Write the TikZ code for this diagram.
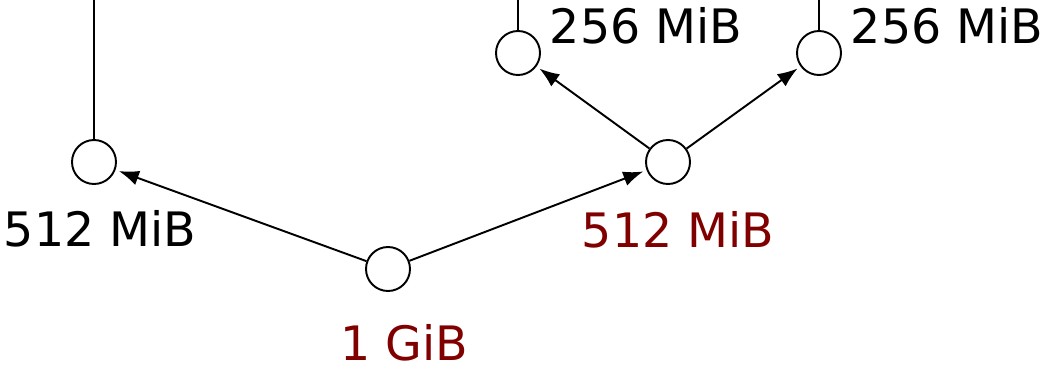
\documentclass[tikz,border=0pt]{standalone}
\usepackage{fontspec}
\setmainfont{DejaVu Sans}
\usetikzlibrary{arrows.meta,positioning}
\definecolor{darkred}{RGB}{128,0,0}

\begin{document}
\begin{tikzpicture}[
  line width=1.1pt,
  block/.style={draw, circle, minimum size=0.88cm, inner sep=0pt},
  size/.style={inner sep=0pt, font=\fontsize{27}{32}\selectfont},
  hot/.style={size, text=darkred},
  link/.style={-{Latex[length=0.4cm,width=0.3cm]}, shorten >=2pt}
]
\useasboundingbox (0,0) rectangle (20.98,-7.36);

\node[block] (root) at (7.76,-5.38) {};
\node[block] (left512) at (1.88,-3.24) {};
\node[block] (right512) at (13.36,-3.24) {};
\node[block] (leftq) at (10.36,-1.06) {};
\node[block] (rightq) at (16.38,-1.06) {};

\coordinate (topA) at (1.88,0);
\coordinate (topB) at (10.36,0);
\coordinate (topC) at (16.38,0);

\node[hot, below=0.64cm of root, xshift=0.32cm] (rootlab) {1 GiB};
\node[size, below=0.5cm of left512, xshift=0.12cm] (leftlab) {512 MiB};
\node[hot, below=0.52cm of right512, xshift=0.2cm] (rightlab) {512 MiB};
\node[size, right=0.16cm of leftq, yshift=0.54cm] (leftqlab) {256 MiB};
\node[size, right=0.16cm of rightq, yshift=0.54cm] (rightqlab) {256 MiB};

\draw[link] (root) -- (left512);
\draw[link] (root) -- (right512);
\draw[link] (right512) -- (leftq);
\draw[link] (right512) -- (rightq);

\draw (left512.north) -- (topA);
\draw (leftq.north) -- (topB);
\draw (rightq.north) -- (topC);

\end{tikzpicture}
\end{document}
